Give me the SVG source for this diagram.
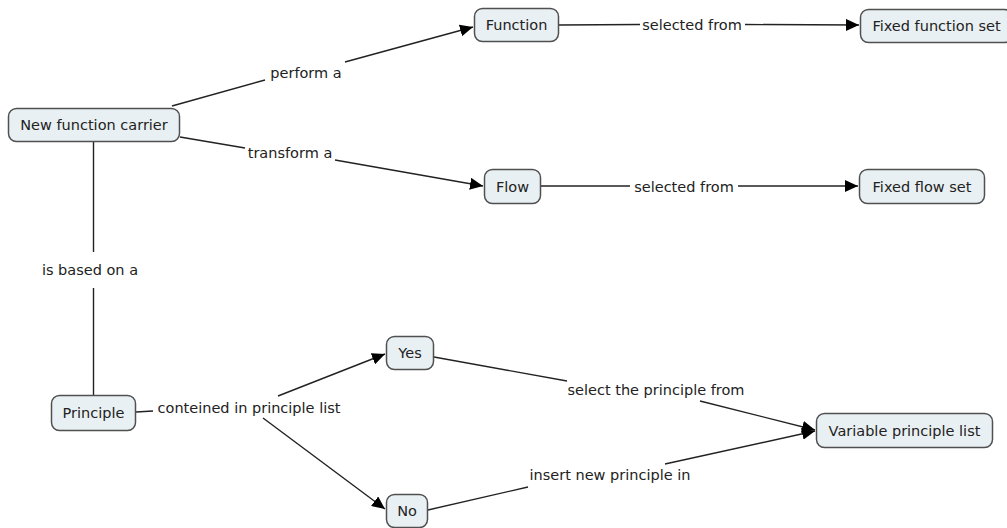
<svg xmlns="http://www.w3.org/2000/svg" width="1007" height="528" viewBox="0 0 1007 528">
<style>
.node rect{fill:#e9f0f3;stroke:#505050;stroke-width:1.5}
text{font-family:"DejaVu Sans","Liberation Sans",sans-serif;font-size:14.5px;fill:#222;text-anchor:middle}
.conn line{stroke:#222;stroke-width:1.4;fill:none}
.conn line.arr{marker-end:url(#ah)}
</style>
<defs>
<marker id="ah" markerUnits="userSpaceOnUse" markerWidth="14" markerHeight="12" refX="13" refY="6" orient="auto">
<path d="M0,0 L13,6 L0,12 Z" fill="#000"/>
</marker>
</defs>
<rect width="1007" height="528" fill="#fff"/>
<g id="connectors" class="conn">
<line x1="172" y1="106" x2="265" y2="80"/>
<line class="arr" x1="345" y1="62" x2="473" y2="27"/>
<line x1="180" y1="137" x2="245" y2="148"/>
<line class="arr" x1="335" y1="160" x2="483" y2="186"/>
<line x1="559" y1="25" x2="640" y2="24.5"/>
<line class="arr" x1="745" y1="24.5" x2="859" y2="25"/>
<line x1="541" y1="186" x2="630" y2="186"/>
<line class="arr" x1="738" y1="186" x2="858" y2="186"/>
<line x1="93.5" y1="142" x2="93.5" y2="252"/>
<line x1="93.5" y1="288" x2="93.5" y2="395"/>
<line x1="136" y1="412" x2="153" y2="411"/>
<line class="arr" x1="278" y1="396" x2="385" y2="354"/>
<line class="arr" x1="263" y1="418" x2="385" y2="509"/>
<line x1="434" y1="357" x2="567" y2="381"/>
<line class="arr" x1="700" y1="401" x2="815" y2="430"/>
<line x1="428" y1="510" x2="528" y2="487"/>
<line class="arr" x1="665" y1="464" x2="815" y2="431"/>
<text x="306" y="78">perform a</text>
<text x="290" y="158">transform a</text>
<text x="692" y="30">selected from</text>
<text x="684" y="192">selected from</text>
<text x="90" y="275">is based on a</text>
<text x="249" y="413">conteined in principle list</text>
<text x="656" y="395">select the principle from</text>
<text x="610" y="480">insert new principle in</text>
</g>
<g id="n-new-function-carrier" class="node"><rect x="8.5" y="108.5" width="171" height="33" rx="8"/><text x="94" y="130">New function carrier</text></g>
<g id="n-function" class="node"><rect x="474.5" y="8.5" width="84" height="33" rx="8"/><text x="516.5" y="30">Function</text></g>
<g id="n-fixed-function-set" class="node"><rect x="860.5" y="9.5" width="152" height="33" rx="8"/><text x="936.5" y="31">Fixed function set</text></g>
<g id="n-flow" class="node"><rect x="484.5" y="169.5" width="56" height="34" rx="8"/><text x="512.5" y="191.5">Flow</text></g>
<g id="n-fixed-flow-set" class="node"><rect x="859.5" y="169.5" width="125" height="34" rx="8"/><text x="922" y="191.5">Fixed flow set</text></g>
<g id="n-principle" class="node"><rect x="51.5" y="395.5" width="84" height="35" rx="8"/><text x="93.5" y="418">Principle</text></g>
<g id="n-yes" class="node"><rect x="386.5" y="336.5" width="47" height="33" rx="8"/><text x="410" y="358">Yes</text></g>
<g id="n-no" class="node"><rect x="386.5" y="494.5" width="41" height="33" rx="8"/><text x="407" y="516">No</text></g>
<g id="n-variable-principle-list" class="node"><rect x="816.5" y="413.5" width="176" height="34" rx="8"/><text x="904.5" y="435.5">Variable principle list</text></g>
</svg>
